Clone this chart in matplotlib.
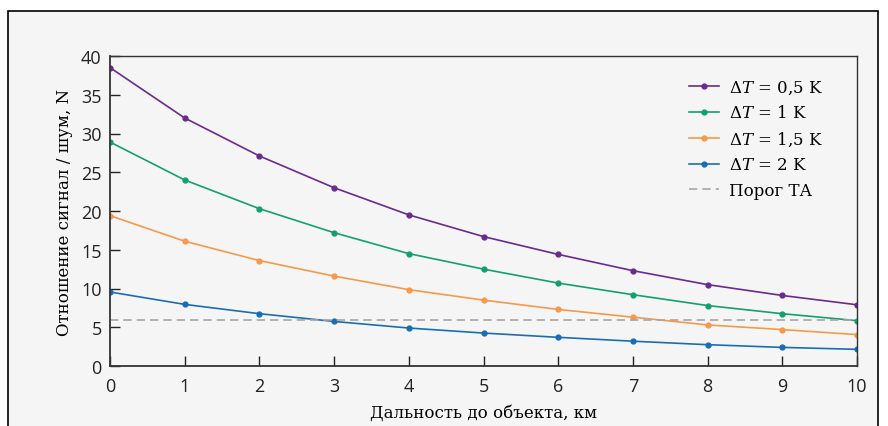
import matplotlib.pyplot as plt
from matplotlib.patches import Rectangle

distance = [0, 1, 2, 3, 4, 5, 6, 7, 8, 9, 10]
dt_05 = [38.5, 32.0, 27.1, 23.0, 19.5, 16.7, 14.4, 12.3, 10.5, 9.1, 7.9]
dt_1 = [28.9, 24.0, 20.3, 17.2, 14.5, 12.5, 10.7, 9.2, 7.8, 6.75, 5.85]
dt_15 = [19.4, 16.1, 13.6, 11.6, 9.85, 8.5, 7.3, 6.3, 5.3, 4.7, 4.05]
dt_2 = [9.55, 7.95, 6.75, 5.75, 4.9, 4.25, 3.7, 3.2, 2.75, 2.4, 2.15]
threshold = 6

series = [
    (dt_05, '#6a2a8e', r'$\Delta T$ = 0,5 K'),
    (dt_1, '#13a06f', r'$\Delta T$ = 1 K'),
    (dt_15, '#f5994b', r'$\Delta T$ = 1,5 K'),
    (dt_2, '#1b6db3', r'$\Delta T$ = 2 K'),
]

plt.rcParams['mathtext.fontset'] = 'dejavuserif'
bg = '#f5f5f5'

fig = plt.figure(figsize=(8.88, 4.27), dpi=100, facecolor='white')
fig.patches.append(Rectangle((8 / 888, -0.05), 870 / 888, 1.05 - 12 / 427,
                             transform=fig.transFigure, facecolor=bg,
                             edgecolor='black', linewidth=1.2, zorder=-1))

ax = fig.add_axes([110 / 888, 1 - 367 / 427, 747 / 888, 310 / 427])
ax.set_facecolor(bg)

for values, color, label in series:
    ax.plot(distance, values, color=color, linewidth=1.2, marker='o',
            markersize=3.5, label=label)
ax.axhline(threshold, color='#a6a6a6', linestyle=(0, (5, 3)), linewidth=1.2,
           label='Порог ТА')

ax.set_xlim(0, 10)
ax.set_ylim(0, 40)
ax.set_xticks(distance)
ax.set_yticks(range(0, 41, 5))
ax.tick_params(direction='in', length=7, width=1, labelsize=13, colors='#222222')
ax.tick_params(axis='x', pad=8)
ax.tick_params(axis='y', pad=6)
for lbl in ax.get_xticklabels() + ax.get_yticklabels():
    lbl.set_family('Open Sans')
for side in ['left', 'bottom']:
    ax.spines[side].set_color('#333333')
    ax.spines[side].set_linewidth(1.3)
for side in ['top', 'right']:
    ax.spines[side].set_color('#333333')
    ax.spines[side].set_linewidth(1.0)

ax.set_xlabel('Дальность до объекта, км', family='DejaVu Serif', fontsize=12,
              labelpad=6)
ax.set_ylabel('Отношение сигнал / шум, N', family='DejaVu Serif', fontsize=12,
              labelpad=6)

leg = ax.legend(loc='upper right', bbox_to_anchor=(0.975, 0.975), frameon=False,
                prop={'family': 'DejaVu Serif', 'size': 12}, handlelength=1.8,
                handletextpad=0.6, labelspacing=0.5)

fig.savefig('out.png', dpi=100, facecolor='white')
